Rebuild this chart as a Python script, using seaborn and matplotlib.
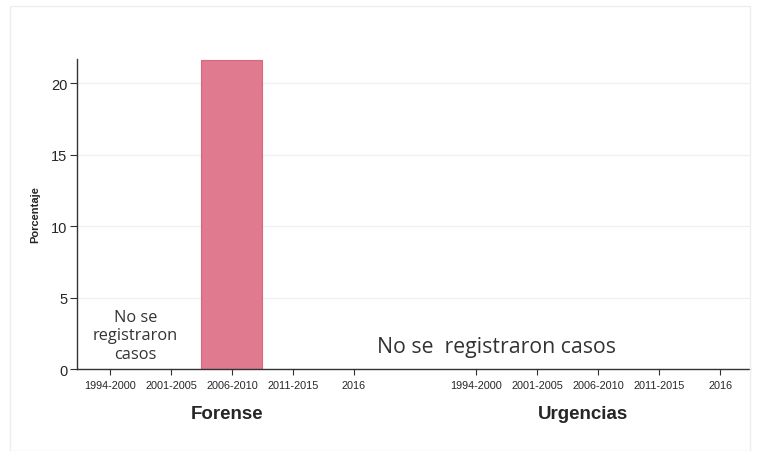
import numpy as np
import pandas as pd
import matplotlib
matplotlib.use("Agg")
import matplotlib.pyplot as plt
from matplotlib.patches import Rectangle
import seaborn as sns

# Datos
periodos = ["1994-2000", "2001-2005", "2006-2010", "2011-2015", "2016"]
grupos = ["Forense", "Urgencias"]
forense = [0, 0, 21.6, 0, 0]
urgencias = [0, 0, 0, 0, 0]

# Build long table, with a one-slot gap between the groups
rows = []
for g, (nombre, vals) in enumerate(zip(grupos, [forense, urgencias])):
    for i, (p, v) in enumerate(zip(periodos, vals)):
        rows.append({"grupo": nombre, "periodo": p, "pos": g * 6 + i, "valor": v})
data = pd.DataFrame(rows)

sns.set_style("white")
plt.rcParams["font.family"] = ["Liberation Sans", "DejaVu Sans"]

fig = plt.figure(figsize=(7.57, 4.52), dpi=100)
fig.patches.append(Rectangle((10 / 757, 0.0), 740 / 757, 1 - 7 / 452, transform=fig.transFigure,
                             fill=False, edgecolor="#eeeeee", linewidth=1))
ax = fig.add_axes([77 / 757, 1 - 370 / 452, 673 / 757, 310 / 452])

sns.barplot(data=data[data["valor"] > 0], x="pos", y="valor", native_scale=True, width=1.0,
            color="#e07a8f", saturation=1, edgecolor="#d9667e", linewidth=0.8, ax=ax)

ax.set_xlim(-0.54, 10.49)
ax.set_ylim(0, 21.7)
ax.set_yticks([0, 5, 10, 15, 20])
ax.yaxis.grid(True, color="#ecf1f4", linewidth=1)
ax.set_axisbelow(True)

ax.set_xticks(data["pos"])
ax.set_xticklabels(data["periodo"], fontsize=7.8)
ax.tick_params(axis="x", bottom=True, length=4, width=0.8, color="#333333", pad=4)
ax.tick_params(axis="y", left=True, length=5, width=0.8, color="#333333", labelsize=10.5, pad=2)

for s in ["top", "right"]:
    ax.spines[s].set_visible(False)
for s in ["left", "bottom"]:
    ax.spines[s].set_color("#333333")
    ax.spines[s].set_linewidth(1)

ax.set_xlabel("")
ax.set_ylabel("Porcentaje", fontsize=8, fontweight="bold", labelpad=8)

# group labels
ax.text(1.92, -0.145, "Forense", transform=ax.get_xaxis_transform(), ha="center", va="center",
        fontsize=13.5, fontweight="bold")
ax.text(7.75, -0.145, "Urgencias", transform=ax.get_xaxis_transform(), ha="center", va="center",
        fontsize=13.5, fontweight="bold")

# annotations
ax.text(0.42, 2.35, "No se\nregistraron\ncasos", ha="center", va="center", fontsize=11.8,
        family="Open Sans", color="#333333", linespacing=1.2)
ax.text(6.34, 1.55, "No se  registraron casos", ha="center", va="center", fontsize=15.3,
        family="Open Sans", color="#333333")

fig.savefig("out.png", dpi=100)
